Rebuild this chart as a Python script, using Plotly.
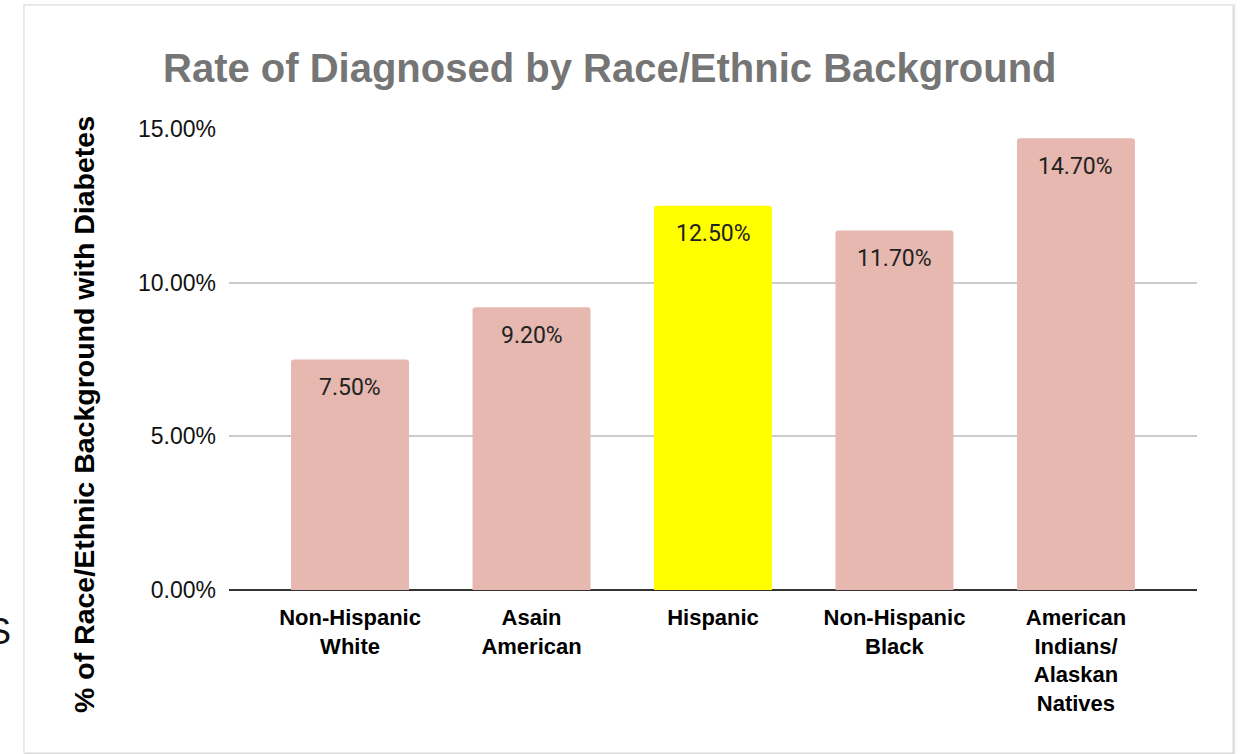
import plotly.graph_objects as go

categories = ["Non-Hispanic<br>White", "Asain<br>American", "Hispanic",
              "Non-Hispanic<br>Black", "American<br>Indians/<br>Alaskan<br>Natives"]
values = [7.5, 9.2, 12.5, 11.7, 14.7]
labels = ["7.50%", "9.20%", "12.50%", "11.70%", "14.70%"]
bar_colors = ["#e6b8af", "#e6b8af", "#ffff00", "#e6b8af", "#e6b8af"]
tick_vals = [0, 5, 10, 15]
tick_text = ["0.00%", "5.00%", "10.00%", "15.00%"]

W, H = 1245, 754
L, R, T, B = 229, 48, 129, 164
PW, PH = W - L - R, H - T - B

def px(x):
    return (x - L) / PW

def py(y):
    return (H - B - y) / PH

fig = go.Figure()
fig.add_trace(go.Bar(
    x=list(range(len(categories))), y=values,
    marker=dict(color=bar_colors, line=dict(width=0)),
    width=0.65, hoverinfo="skip",
))

for i, (v, t) in enumerate(zip(values, labels)):
    fig.add_annotation(x=i, y=v, text=t, showarrow=False, yanchor="middle",
                       yshift=-28, font=dict(family="Roboto", size=23, color="#222222"))

shapes = []
# card shadow and border
for k, c in enumerate(["#f4f4f4", "#e8e8e8", "#dcdcdc"]):
    off = 3 - k
    shapes.append(dict(type="rect", xref="paper", yref="paper", layer="below",
                       x0=px(24 - off + 2), x1=px(1233 + off),
                       y0=py(753 + off), y1=py(5 - off + 2),
                       line=dict(width=0), fillcolor=c))
shapes.append(dict(type="rect", xref="paper", yref="paper", layer="below",
                   x0=px(24), x1=px(1233), y0=py(753), y1=py(5),
                   line=dict(width=1, color="#d9d9d9"), fillcolor="white"))

# stray glyph at the left edge of the screenshot
fig.add_annotation(xref="paper", yref="paper", x=px(13), y=py(631), xanchor="right",
                   yanchor="middle", text="S", showarrow=False,
                   font=dict(family="Liberation Sans", size=36, color="#111111"))

# y-axis title
fig.add_annotation(xref="paper", yref="paper", x=px(84), y=py(415), xanchor="center",
                   yanchor="middle", textangle=-90, showarrow=False,
                   text="<b>% of Race/Ethnic Background with Diabetes</b>",
                   font=dict(family="Liberation Sans", size=28.5, color="#000000"))

fig.update_layout(
    width=W, height=H,
    margin=dict(l=L, r=R, t=T, b=B, pad=0),
    paper_bgcolor="white", plot_bgcolor="rgba(0,0,0,0)",
    shapes=shapes,
    showlegend=False,
    title=dict(text="<b>Rate of Diagnosed by Race/Ethnic Background</b>",
               font=dict(family="Liberation Sans", size=40, color="#757575"),
               x=163 / W, xanchor="left", xref="container",
               y=1 - 68 / H, yanchor="middle", yref="container"),
    xaxis=dict(range=[-0.667, 4.667], tickmode="array",
               tickvals=list(range(len(categories))), ticktext=[f"<b>{c}</b>" for c in categories],
               tickfont=dict(family="Liberation Sans", size=22, color="#000000"),
               showgrid=False, zeroline=False, showline=False, ticks="",
               ticklabelstandoff=12),
    yaxis=dict(range=[0, 15], tickmode="array", tickvals=tick_vals, ticktext=tick_text,
               tickfont=dict(family="Liberation Sans", size=23, color="#111111"),
               showgrid=True, gridcolor="#cccccc", gridwidth=1.5,
               zeroline=True, zerolinecolor="#333333", zerolinewidth=1.5,
               showline=False, ticks="", ticklabelstandoff=12),
    barcornerradius=3,
)

fig.write_html("out.html")
